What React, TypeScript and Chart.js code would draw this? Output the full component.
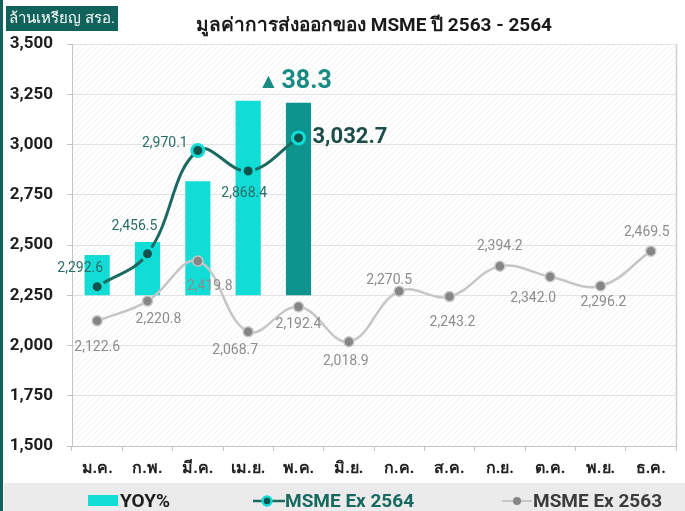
import React, { useEffect, useRef } from 'react';
import { Chart, registerables } from 'chart.js';

Chart.register(...registerables);

// ---------- data ----------
const months = ['ม.ค.', 'ก.พ.', 'มี.ค.', 'เม.ย.', 'พ.ค.', 'มิ.ย.', 'ก.ค.', 'ส.ค.', 'ก.ย.', 'ต.ค.', 'พ.ย.', 'ธ.ค.'];
const ex2564: (number | null)[] = [2292.6, 2456.5, 2970.1, 2868.4, 3032.7, null, null, null, null, null, null, null];
const ex2563: number[] = [2122.6, 2220.8, 2419.8, 2068.7, 2192.4, 2018.9, 2270.5, 2243.2, 2394.2, 2342.0, 2296.2, 2469.5];
const yoy: (number | null)[] = [8.0, 10.6, 22.7, 38.7, 38.3, null, null, null, null, null, null, null];
const yMin = 1500;
const yMax = 3500;
const yStep = 250;
const titleText = 'มูลค่าการส่งออกของ MSME ปี 2563 - 2564';
const unitText = 'ล้านเหรียญ สรอ.';
const legendYoy = 'YOY%';
const legend2564 = 'MSME Ex 2564';
const legend2563 = 'MSME Ex 2563';

// label placement offsets (relative to the point), not data
const off2564: [number, number][] = [[-17, -18], [-13, -27], [-33, -7], [-4, 23], [14, 0]];
const off2563: [number, number][] = [[0, 27], [11, 18], [12, 25], [-13, 19], [0, 18], [-3, 20], [-10, -11], [3, 26], [0, -20], [-17, 22], [3, 17], [-4, -19]];

const FONT = 'Roboto, "Noto Sans", "DejaVu Sans", sans-serif';
const CYAN = '#12dcd6';
const DARK_BAR = '#0e938e';
const TEAL_LINE = '#1b6a62';
const TEAL_PT = '#10534c';
const GREY_LINE = '#c6c6c6';
const GREY_PT = '#858585';

const fmt = (v: number) => v.toLocaleString('en-US', { minimumFractionDigits: 1, maximumFractionDigits: 1 });

function makeHatch(ctx: CanvasRenderingContext2D) {
  const c = document.createElement('canvas');
  c.width = 6; c.height = 6;
  const g = c.getContext('2d')!;
  g.fillStyle = '#ffffff';
  g.fillRect(0, 0, 6, 6);
  g.strokeStyle = '#f1f1f1';
  g.lineWidth = 1;
  g.beginPath();
  g.moveTo(0, 6); g.lineTo(6, 0);
  g.moveTo(-1, 1); g.lineTo(1, -1);
  g.moveTo(5, 7); g.lineTo(7, 5);
  g.stroke();
  return ctx.createPattern(c, 'repeat');
}

const lastYoyIndex = () => {
  let last = -1;
  yoy.forEach((v, i) => { if (v != null) last = i; });
  return last;
};

const decorPlugin = {
  id: 'decor',
  beforeDraw(chart: any) {
    const { ctx, chartArea: a, width, height } = chart;
    ctx.save();
    ctx.fillStyle = '#ffffff';
    ctx.fillRect(0, 0, width, height);
    const pat = makeHatch(ctx);
    if (pat) { ctx.fillStyle = pat; ctx.fillRect(a.left, a.top, a.right - a.left, a.bottom - a.top); }
    // left teal strip
    ctx.fillStyle = '#11625b';
    ctx.fillRect(0, 0, 3, height);
    // unit badge
    ctx.fillStyle = '#11625b';
    ctx.fillRect(6, 6, 112, 25);
    ctx.fillStyle = '#ffffff';
    ctx.font = `15px ${FONT}`;
    ctx.textAlign = 'center';
    ctx.textBaseline = 'middle';
    ctx.fillText(unitText, 62, 19);
    // title
    ctx.fillStyle = '#1a1a1a';
    ctx.font = `bold 19px ${FONT}`;
    ctx.fillText(titleText, 374, 26);
    ctx.restore();
  },
  afterDatasetsDraw(chart: any) {
    const { ctx } = chart;
    ctx.save();
    ctx.textAlign = 'center';
    ctx.textBaseline = 'middle';
    // 2563 labels
    const m63 = chart.getDatasetMeta(1);
    ctx.font = `14px ${FONT}`;
    ctx.fillStyle = '#8d8d8d';
    m63.data.forEach((p: any, i: number) => {
      const v = ex2563[i];
      const o = off2563[i];
      ctx.fillText(fmt(v), p.x + o[0], p.y + o[1]);
    });
    // 2564 labels
    const m64 = chart.getDatasetMeta(0);
    m64.data.forEach((p: any, i: number) => {
      const v = ex2564[i];
      if (v == null) return;
      const o = off2564[i];
      if (i === 4) {
        ctx.font = `bold 22px ${FONT}`;
        ctx.fillStyle = '#1d4d48';
        ctx.textAlign = 'left';
        ctx.fillText(fmt(v), p.x + o[0], p.y + o[1]);
        ctx.textAlign = 'center';
      } else {
        ctx.font = `14px ${FONT}`;
        ctx.fillStyle = '#2a6e67';
        ctx.fillText(fmt(v), p.x + o[0], p.y + o[1]);
      }
    });
    // YOY highlight on the latest bar
    const mb = chart.getDatasetMeta(2);
    const last = lastYoyIndex();
    if (last >= 0) {
      const b = mb.data[last];
      const val = yoy[last] as number;
      ctx.fillStyle = '#1a8b83';
      ctx.font = `16px ${FONT}`;
      ctx.textAlign = 'right';
      ctx.fillText('▲', b.x - 24, b.y - 21);
      ctx.font = `bold 25px ${FONT}`;
      ctx.textAlign = 'left';
      ctx.fillText(val.toFixed(1), b.x - 17, b.y - 21);
    }
    ctx.restore();
  },
  afterDraw(chart: any) {
    const { ctx, chartArea: a, width, height } = chart;
    ctx.save();
    // right border
    ctx.strokeStyle = '#cfcfcf';
    ctx.lineWidth = 1.5;
    ctx.beginPath();
    ctx.moveTo(a.right + 0.5, a.top);
    ctx.lineTo(a.right + 0.5, a.bottom);
    ctx.stroke();
    // legend band
    ctx.fillStyle = '#ebebeb';
    ctx.fillRect(4, 483, width - 4, height - 483);
    const ly = 501;
    ctx.textBaseline = 'middle';
    ctx.textAlign = 'left';
    ctx.font = `bold 19px ${FONT}`;
    // YOY
    ctx.fillStyle = CYAN;
    ctx.fillRect(88, 495, 30, 11);
    ctx.fillStyle = '#1c1c1c';
    ctx.fillText(legendYoy, 120, ly + 1);
    // 2564
    ctx.strokeStyle = TEAL_LINE;
    ctx.lineWidth = 2.5;
    ctx.beginPath(); ctx.moveTo(253, ly); ctx.lineTo(285, ly); ctx.stroke();
    ctx.beginPath(); ctx.arc(267, ly, 4.5, 0, Math.PI * 2);
    ctx.fillStyle = TEAL_PT; ctx.fill();
    ctx.strokeStyle = CYAN; ctx.lineWidth = 2.5; ctx.stroke();
    ctx.fillStyle = '#17695f';
    ctx.fillText(legend2564, 285, ly + 1);
    // 2563
    ctx.strokeStyle = GREY_LINE;
    ctx.lineWidth = 2;
    ctx.beginPath(); ctx.moveTo(502, ly); ctx.lineTo(532, ly); ctx.stroke();
    ctx.beginPath(); ctx.arc(517, ly, 4, 0, Math.PI * 2);
    ctx.fillStyle = GREY_PT; ctx.fill();
    ctx.fillStyle = '#3c3c3c';
    ctx.fillText(legend2563, 533, ly + 1);
    ctx.restore();
  },
};

export default function App() {
  const ref = useRef<HTMLCanvasElement | null>(null);
  useEffect(() => {
    document.body.style.margin = '0';
    const canvas = ref.current;
    if (!canvas) return;
    const last = lastYoyIndex();
    const barColors = yoy.map((_, i) => (i === last ? DARK_BAR : CYAN));
    const chart = new Chart(canvas, {
      type: 'bar',
      data: {
        labels: months,
        datasets: [
          {
            type: 'line',
            label: legend2564,
            data: ex2564,
            yAxisID: 'y',
            borderColor: TEAL_LINE,
            borderWidth: 3,
            tension: 0.4,
            pointRadius: 6,
            pointBackgroundColor: TEAL_PT,
            pointBorderColor: CYAN,
            pointBorderWidth: 3,
            order: 0,
          } as any,
          {
            type: 'line',
            label: legend2563,
            data: ex2563,
            yAxisID: 'y',
            borderColor: GREY_LINE,
            borderWidth: 2.5,
            tension: 0.4,
            pointRadius: 5,
            pointBackgroundColor: GREY_PT,
            pointBorderColor: '#c8c8c8',
            pointBorderWidth: 1.5,
            order: 1,
          } as any,
          {
            type: 'bar',
            label: legendYoy,
            data: yoy,
            yAxisID: 'y2',
            backgroundColor: barColors,
            barPercentage: 0.5,
            categoryPercentage: 1,
            order: 2,
          } as any,
        ],
      },
      options: {
        responsive: false,
        animation: false,
        layout: { padding: { top: 44, left: 0, right: 3, bottom: 35 } },
        plugins: {
          legend: { display: false },
          title: { display: false },
          tooltip: { enabled: false },
        },
        scales: {
          x: {
            offset: true,
            grid: { drawOnChartArea: false, offset: true, tickLength: 5, color: '#c4c4c4' },
            border: { color: '#c4c4c4' },
            ticks: { color: '#222222', font: { family: FONT, size: 16, weight: 'bold' }, padding: 8, maxRotation: 0, autoSkip: false },
            afterFit: (s: any) => { s.height = 30; },
          },
          y: {
            min: yMin,
            max: yMax,
            ticks: {
              stepSize: yStep,
              color: '#1e1e1e',
              font: { family: FONT, size: 17, weight: 'bold' },
              padding: 14,
              callback: (v: any) => Number(v).toLocaleString('en-US'),
            },
            grid: { color: '#e3e3e3', tickLength: 5, tickColor: '#c4c4c4' },
            border: { color: '#c4c4c4' },
            afterFit: (s: any) => { s.width = 72; },
          },
          y2: {
            display: false,
            min: (yMin - 2250) / 25,
            max: (yMax - 2250) / 25,
          },
        },
      } as any,
      plugins: [decorPlugin],
    });
    return () => chart.destroy();
  }, []);
  return (
    <div style={{ width: 685, height: 511 }}>
      <canvas ref={ref} width={685} height={511} style={{ display: 'block' }} />
    </div>
  );
}
